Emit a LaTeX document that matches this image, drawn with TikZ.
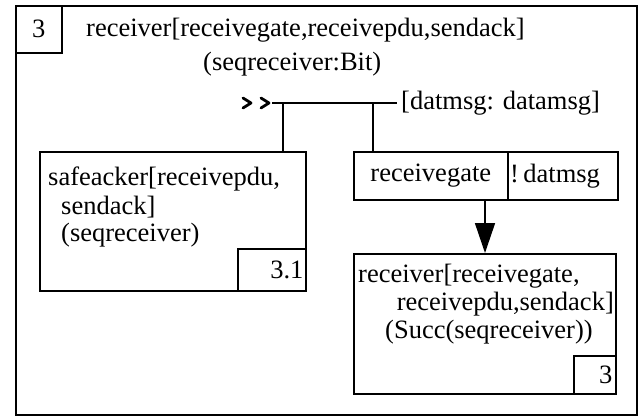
\documentclass[tikz,border=0pt]{standalone}
\usepackage{fontspec}
\setmainfont{Liberation Serif}
\usetikzlibrary{arrows.meta}
\begin{document}
\begin{tikzpicture}[x=1pt,y=-1pt,
  box/.style={draw,line width=1.6pt,inner sep=0pt,anchor=north west},
  lbl/.style={inner sep=0pt,font=\fontsize{26.5}{30}\selectfont},
  txt/.style={lbl,anchor=west},
  rtxt/.style={lbl,anchor=east},
  wire/.style={line width=1.6pt}]
\useasboundingbox (0,0) rectangle (642,417);
% outer frame
\node[box,minimum width=621pt,minimum height=409pt] (outer) at (15,5) {};
\node[box,minimum width=46pt,minimum height=47pt] (num) at (15,5) {};
\node[lbl] (numt) at (num.center) {3};
\node[txt] (title) at (86,30) {receiver[receivegate,receivepdu,sendack]};
\node[txt] (sub) at (203,64) {(seqreceiver:Bit)};
% bus
\coordinate (busL) at (272,103);
\coordinate (busR) at (397,103);
\coordinate (v1) at (283,103);
\coordinate (v2) at (373,103);
\draw[wire] (busL) -- (busR);
\draw[line width=2.8pt,line cap=round,line join=round] (243,98) -- (251,103) -- (243,108);
\draw[line width=2.8pt,line cap=round,line join=round] (261,98) -- (269,103) -- (261,108);
\node[txt] (lab) at (401,103) {[datmsg: datamsg]};
% safeacker
\node[box,minimum width=266pt,minimum height=139pt] (sa) at (39,151) {};
\node[box,minimum width=68pt,minimum height=42pt] (sanum) at (237,248) {};
\node[rtxt] at ([xshift=-3pt]sanum.east) {3.1};
\node[txt] (sa1) at (48,179) {safeacker[receivepdu,};
\node[txt] (sa2) at (61,207) {sendack]};
\node[txt] (sa3) at (61,235) {(seqreceiver)};
\draw[wire] (v1) -- (v1 |- sa.north);
% receivegate ! datmsg
\node[box,minimum width=154pt,minimum height=48pt] (rg) at (353,151) {};
\node[box,minimum width=110pt,minimum height=48pt] (dm) at (507,151) {};
\node[lbl] at (rg.center) {receivegate};
\node[txt] at ([xshift=3pt]dm.west) {!\,datmsg};
\draw[wire] (v2) -- (v2 |- rg.north);
% receiver
\node[box,minimum width=262pt,minimum height=140pt] (rc) at (353,253) {};
\node[box,minimum width=42pt,minimum height=38pt] (rcnum) at (573,355) {};
\node[rtxt] at ([xshift=-4pt]rcnum.east) {3};
\node[txt] (rc1) at (358,276) {receiver[receivegate,};
\node[rtxt] (rc2) at (614,304) {receivepdu,sendack]};
\node[txt] (rc3) at (385,332) {(Succ(seqreceiver))};
\coordinate (ax) at (485,0);
\draw[wire,-{Triangle[length=30pt,width=20pt]}] (ax |- rg.south) -- (ax |- rc.north);
\end{tikzpicture}
\end{document}
